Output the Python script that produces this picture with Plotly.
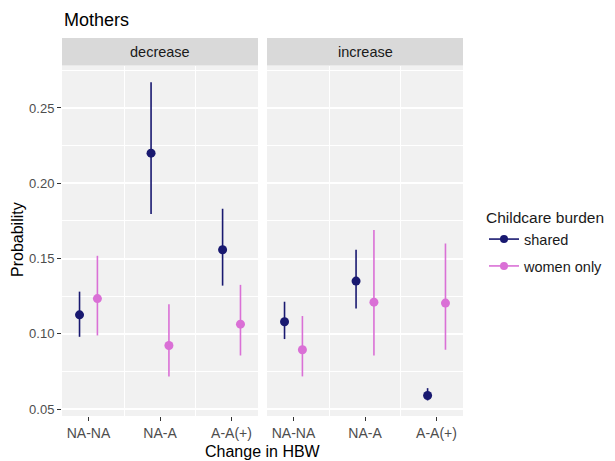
import plotly.graph_objects as go

categories = ["NA-NA", "NA-A", "A-A(+)"]
panels = ["decrease", "increase"]
groups = ["shared", "women only"]

shared_dec = [0.1126, 0.2200, 0.1558]
shared_dec_lo = [0.0980, 0.1795, 0.1320]
shared_dec_hi = [0.1280, 0.2670, 0.1830]
women_dec = [0.1234, 0.0922, 0.1064]
women_dec_lo = [0.0989, 0.0717, 0.0856]
women_dec_hi = [0.1518, 0.1197, 0.1325]

shared_inc = [0.1080, 0.1350, 0.0590]
shared_inc_lo = [0.0965, 0.1168, 0.0557]
shared_inc_hi = [0.1213, 0.1558, 0.0639]
women_inc = [0.0894, 0.1210, 0.1204]
women_inc_lo = [0.0717, 0.0856, 0.0894]
women_inc_hi = [0.1118, 0.1690, 0.1600]

y_ticks = [0.05, 0.10, 0.15, 0.20, 0.25]
y_ticktext = ["0.05", "0.10", "0.15", "0.20", "0.25"]

colors = {"shared": "#191970", "women only": "#DA70D6"}
dodge = {"shared": -0.125, "women only": 0.125}
FONT = "Liberation Sans, Arial, sans-serif"

data = {
    ("decrease", "shared"): (shared_dec, shared_dec_lo, shared_dec_hi),
    ("decrease", "women only"): (women_dec, women_dec_lo, women_dec_hi),
    ("increase", "shared"): (shared_inc, shared_inc_lo, shared_inc_hi),
    ("increase", "women only"): (women_inc, women_inc_lo, women_inc_hi),
}

W, H = 615, 461
ml, mr, mt, mb = 62, 0, 38, 45
pw = W - ml - mr
ph = H - mt - mb
panel_top = (416 - 65.5) / ph
dom1 = [0, (258 - ml) / pw]
dom2 = [(267 - ml) / pw, (463 - ml) / pw]

fig = go.Figure()
axes = {"decrease": ("x", "y"), "increase": ("x2", "y2")}
for p in panels:
    xa, ya = axes[p]
    for g in groups:
        vals, lo, hi = data[(p, g)]
        xs = [i + dodge[g] for i in range(len(categories))]
        fig.add_trace(go.Scatter(
            x=xs, y=vals, mode="markers", xaxis=xa, yaxis=ya,
            marker=dict(color=colors[g], size=9),
            error_y=dict(type="data", symmetric=False,
                         array=[h - v for h, v in zip(hi, vals)],
                         arrayminus=[v - l for v, l in zip(vals, lo)],
                         color=colors[g], thickness=1.6, width=0),
            showlegend=False, hoverinfo="skip"))

for g in groups:
    fig.add_trace(go.Scatter(
        x=[None], y=[None], mode="lines+markers", name=g, legendgroup=g,
        line=dict(color=colors[g], width=1.6),
        marker=dict(color=colors[g], size=8)))

xcommon = dict(range=[-0.37, 2.37], tickmode="array", tickvals=[0, 1, 2],
               ticktext=categories, showgrid=False, zeroline=False,
               ticks="outside", ticklen=4, tickcolor="#333333", tickwidth=1,
               tickfont=dict(size=14, color="#4D4D4D", family=FONT),
               minor=dict(tick0=0.5, dtick=1, showgrid=True, gridcolor="white",
                          gridwidth=1.4, ticks=""),
               showline=False, automargin=False)
ycommon = dict(range=[0.0454, 0.2782], tickmode="array", tickvals=y_ticks,
               showgrid=True, gridcolor="white", gridwidth=1.5, zeroline=False,
               minor=dict(tick0=0.025, dtick=0.05, showgrid=True, gridcolor="white",
                          gridwidth=1, ticks=""),
               domain=[0, panel_top], automargin=False)

fig.update_layout(
    width=W, height=H,
    margin=dict(l=ml, r=mr, t=mt, b=mb, autoexpand=False),
    paper_bgcolor="white", plot_bgcolor="#F1F1F1",
    font=dict(family=FONT, color="#1A1A1A"),
    xaxis=dict(domain=dom1, anchor="y", **xcommon),
    xaxis2=dict(domain=dom2, anchor="y2", **xcommon),
    yaxis=dict(anchor="x", ticktext=y_ticktext, ticks="outside", ticklen=4,
               tickcolor="#333333",
               tickfont=dict(size=13, color="#4D4D4D", family=FONT), **ycommon),
    yaxis2=dict(anchor="x2", matches="y", showticklabels=False, ticks="", **ycommon),
    legend=dict(x=(484 - ml) / pw, xanchor="left", y=(416 - 203) / ph, yanchor="top",
                title=dict(text="Childcare burden", font=dict(size=15.5, color="#1A1A1A")),
                font=dict(size=14.5, color="#1A1A1A"), bgcolor="rgba(0,0,0,0)",
                itemwidth=30, tracegroupgap=5),
)

for p, dom in zip(panels, [dom1, dom2]):
    fig.add_shape(type="rect", xref="paper", yref="paper", x0=dom[0], x1=dom[1],
                  y0=panel_top, y1=1, fillcolor="#D9D9D9", line=dict(width=0),
                  layer="below")
    fig.add_annotation(text=p, xref="paper", yref="paper", x=(dom[0] + dom[1]) / 2,
                       y=(panel_top + 1) / 2, showarrow=False, xanchor="center",
                       font=dict(size=14.5, color="#1A1A1A"), yanchor="middle")

fig.add_annotation(text="Mothers", xref="paper", yref="paper", x=0, xanchor="left",
                   y=1 + (mt - 20) / ph, yanchor="middle", showarrow=False,
                   font=dict(size=18, color="black"))
fig.add_annotation(text="Change in HBW", xref="paper", yref="paper",
                   x=((dom1[0] + dom2[1]) / 2), xanchor="center",
                   y=(416 - 451) / ph, yanchor="middle", showarrow=False,
                   font=dict(size=16, color="black"))
fig.add_annotation(text="Probability", xref="paper", yref="paper",
                   x=(17 - ml) / pw, y=(416 - 240) / ph, textangle=-90,
                   xanchor="center", yanchor="middle", showarrow=False,
                   font=dict(size=16, color="black"))

fig.write_html("out.html", config={"displayModeBar": False},
               post_script="document.body.style.margin='0';")
